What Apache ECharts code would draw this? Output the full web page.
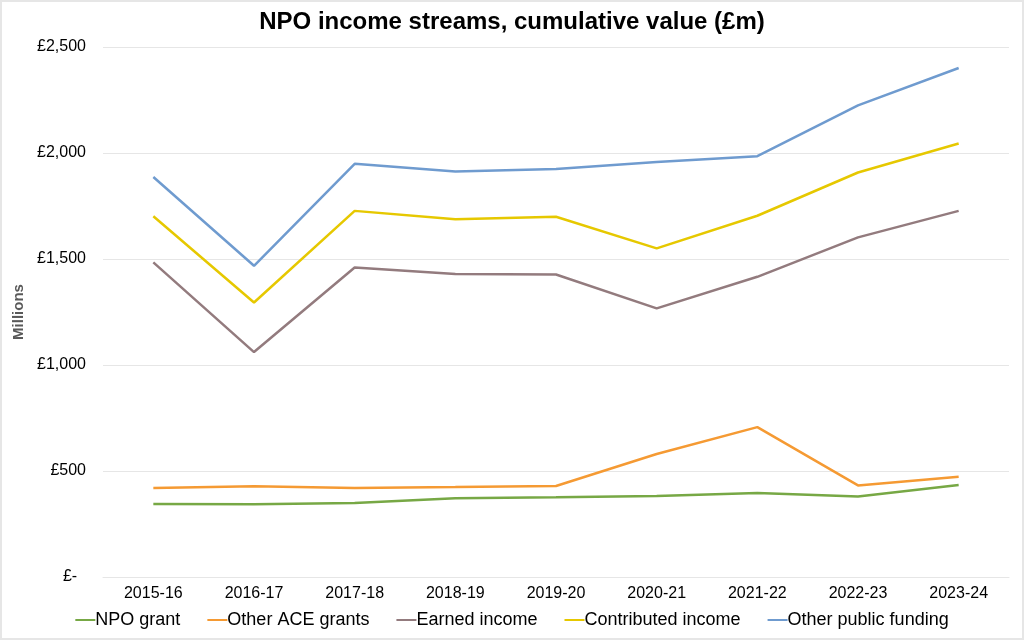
<!DOCTYPE html>
<html>
<head>
<meta charset="utf-8">
<script src="https://cdn.jsdelivr.net/npm/echarts@6/dist/echarts.min.js"></script>
<style>
  html, body { margin: 0; padding: 0; background: #fff; }
  #main { width: 1024px; height: 640px; box-sizing: border-box; border: 2px solid #e6e6e6; }
</style>
</head>
<body>
<div id="main"></div>
<script>
// years on the x axis
var years = ["2015-16", "2016-17", "2017-18", "2018-19", "2019-20", "2020-21", "2021-22", "2022-23", "2023-24"];
// cumulative values, £m
var npoGrant = [344, 343, 349, 371, 376, 382, 396, 380, 434];
var otherAce = [420, 428, 420, 424, 429, 580, 707, 432, 473];
var earned = [1484, 1061, 1460, 1429, 1427, 1267, 1416, 1602, 1727];
var contributed = [1702, 1295, 1727, 1688, 1699, 1550, 1704, 1908, 2045];
var otherPublic = [1887, 1468, 1949, 1913, 1925, 1957, 1985, 2225, 2401];
var yTicks = [0, 500, 1000, 1500, 2000, 2500];

var font = "Liberation Sans, Arial, Helvetica, sans-serif";

function line(name, data, color) {
    return {
        name: name,
        type: "line",
        data: data,
        symbol: "none",
        lineStyle: { color: color, width: 2.5 },
        itemStyle: { color: color }
    };
}

window.onload = function() {
    var myChart = echarts.init(document.getElementById("main"));
    var option = {
        animation: false,
        title: {
            text: "NPO income streams, cumulative value (£m)",
            left: "center",
            top: 3,
            textStyle: { fontFamily: font, fontSize: 24, fontWeight: "bold", color: "#000" }
        },
        grid: { left: 101, right: 13, top: 45, bottom: 61, outerBoundsMode: "none" },
        legend: {
            bottom: 4,
            left: "center",
            icon: "rect",
            itemWidth: 20,
            itemHeight: 2,
            itemGap: 27,
            textStyle: { fontFamily: font, fontSize: 18, color: "#000", padding: [0, 0, 0, -5] },
            data: ["NPO grant", "Other ACE grants", "Earned income", "Contributed income", "Other public funding"]
        },
        xAxis: {
            type: "category",
            data: years,
            axisLine: { show: true, lineStyle: { color: "#e6e6e6" } },
            axisTick: { show: false },
            axisLabel: { fontFamily: font, fontSize: 16, color: "#000", margin: 9 }
        },
        yAxis: {
            type: "value",
            min: yTicks[0],
            max: yTicks[yTicks.length - 1],
            interval: 500,
            name: "Millions",
            nameLocation: "middle",
            nameGap: 76,
            nameTextStyle: { fontFamily: font, fontSize: 15, fontWeight: "bold", color: "#595959" },
            axisLine: { show: false },
            axisTick: { show: false },
            splitLine: { lineStyle: { color: "#e6e6e6", width: 1 } },
            axisLabel: {
                fontFamily: font, fontSize: 16, color: "#000", margin: 17,
                formatter: function(v) {
                    if (v === 0) return "£-  ";
                    return "£" + v.toLocaleString("en-GB");
                }
            }
        },
        series: [
            line("NPO grant", npoGrant, "#77A845"),
            line("Other ACE grants", otherAce, "#F59A33"),
            line("Earned income", earned, "#937B7E"),
            line("Contributed income", contributed, "#E6C800"),
            line("Other public funding", otherPublic, "#6F9BCF")
        ]
    };
    myChart.setOption(option);
};
</script>
</body>
</html>
